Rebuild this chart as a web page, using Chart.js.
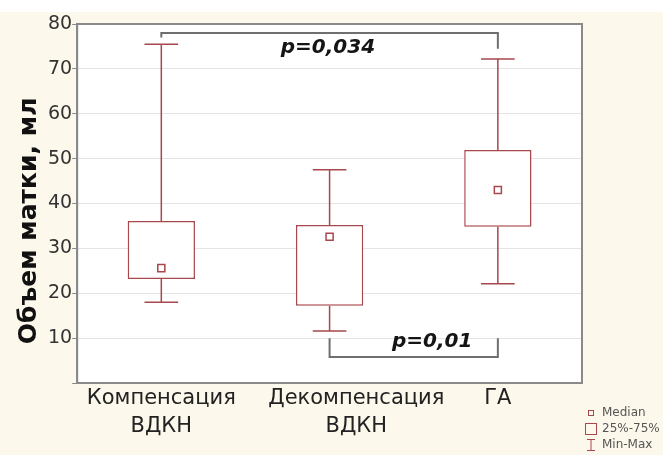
<!DOCTYPE html>
<html>
<head>
<meta charset="utf-8">
<script src="https://cdn.jsdelivr.net/npm/chart.js@4.4.0/dist/chart.umd.min.js"></script>
<style>
  body {
    margin: 0;
    background: linear-gradient(#ffffff 0 12px, #fdf8ec 12px);
  }
  #wrap { width: 663px; height: 455px; position: relative; }
</style>
</head>
<body>
<div id="wrap"><canvas id="myChart"></canvas></div>
<script>
// DATA
const NB = "\u00A0";
const categories = [
  ["Компенсация", "ВДКН"],
  [NB.repeat(8) + "Декомпенсация", NB.repeat(8) + "ВДКН"],
  "ГА",
];
const minVals = [18.0, 11.6, 22.1];
const q1Vals = [23.2, 17.2, 34.8];
const medianVals = [25.6, 32.6, 43.0];
const q3Vals = [36.1, 35.2, 51.9];
const maxVals = [75.5, 47.5, 72.2];
const yTicks = [0, 10, 20, 30, 40, 50, 60, 70, 80];

// significance brackets: from/to category, bracket level, end tick levels, label spot
const comparisons = [
  { from: 0, to: 2, level: 78, endFrom: 77, endTo: 74.5, text: "p=0,034", at: 0.99, textY: 74.6 },
  { from: 1, to: 2, level: 5.8, endFrom: 10, endTo: 10, text: "p=0,01", at: 1.61, textY: 9.1 },
];

const BOX_RED = "#a8474c";
const FRAME = "#8a8a8a";

//SMALL LEGEND ICONS
function makeIcon(w, h, draw) {
  const c = document.createElement("canvas");
  c.width = w;
  c.height = h;
  const g = c.getContext("2d");
  g.strokeStyle = BOX_RED;
  g.lineWidth = 1;
  draw(g);
  return c;
}
const iconMedian = makeIcon(8, 8, (g) => g.strokeRect(1.5, 1.5, 5, 5));
const iconBox = makeIcon(12, 12, (g) => g.strokeRect(0.5, 0.5, 11, 11));
const iconWhisker = makeIcon(10, 12, (g) => {
  g.beginPath();
  g.moveTo(1, 0.5); g.lineTo(9, 0.5);
  g.moveTo(5, 0.5); g.lineTo(5, 11.5);
  g.moveTo(1, 11.5); g.lineTo(9, 11.5);
  g.stroke();
});

//PLOT BACKGROUND + FRAME
const frame = {
  id: "frame",
  beforeDraw(chart) {
    const { ctx, chartArea: a } = chart;
    ctx.save();
    ctx.fillStyle = "#ffffff";
    ctx.fillRect(a.left, a.top, a.right - a.left, a.bottom - a.top);
    ctx.restore();
  },
  afterDraw(chart) {
    const { ctx, chartArea: a } = chart;
    ctx.save();
    ctx.strokeStyle = FRAME;
    ctx.lineWidth = 2;
    ctx.strokeRect(a.left, a.top, a.right - a.left, a.bottom - a.top);
    ctx.restore();
  },
};

//WHISKERS (min - q1, q3 - max) from the library scales
const whiskers = {
  id: "whiskers",
  beforeDatasetsDraw(chart) {
    const { ctx, scales } = chart;
    const y = scales.y;
    const bars = chart.getDatasetMeta(0).data;
    ctx.save();
    ctx.strokeStyle = BOX_RED;
    ctx.lineWidth = 1.5;
    bars.forEach((bar, i) => {
      const cx = bar.x;
      const half = bar.width * 0.25;
      const yMin = y.getPixelForValue(minVals[i]);
      const yMax = y.getPixelForValue(maxVals[i]);
      ctx.beginPath();
      ctx.moveTo(cx, yMax);
      ctx.lineTo(cx, y.getPixelForValue(q3Vals[i]));
      ctx.moveTo(cx, y.getPixelForValue(q1Vals[i]));
      ctx.lineTo(cx, yMin);
      ctx.moveTo(cx - half, yMax);
      ctx.lineTo(cx + half, yMax);
      ctx.moveTo(cx - half, yMin);
      ctx.lineTo(cx + half, yMin);
      ctx.stroke();
    });
    ctx.restore();
  },
};

//P-VALUE BRACKETS
const brackets = {
  id: "brackets",
  afterDatasetsDraw(chart) {
    const { ctx, scales } = chart;
    const x = scales.x;
    const y = scales.y;
    ctx.save();
    comparisons.forEach((c) => {
      const x1 = x.getPixelForValue(c.from);
      const x2 = x.getPixelForValue(c.to);
      const yl = y.getPixelForValue(c.level);
      ctx.strokeStyle = "#6f6f6f";
      ctx.lineWidth = 2;
      ctx.beginPath();
      ctx.moveTo(x1, y.getPixelForValue(c.endFrom));
      ctx.lineTo(x1, yl);
      ctx.lineTo(x2, yl);
      ctx.lineTo(x2, y.getPixelForValue(c.endTo));
      ctx.stroke();
      ctx.fillStyle = "#151515";
      ctx.font = "italic bold 20px 'DejaVu Sans'";
      ctx.textAlign = "center";
      ctx.textBaseline = "middle";
      ctx.fillText(c.text, x.getPixelForValue(c.at), y.getPixelForValue(c.textY));
    });
    ctx.restore();
  },
};

const data = {
  labels: categories,
  datasets: [
    {
      type: "bar",
      label: "25%-75%",
      data: q1Vals.map((q, i) => [q, q3Vals[i]]),
      backgroundColor: "#ffffff",
      borderColor: BOX_RED,
      borderWidth: 1.5,
      borderSkipped: false,
      barPercentage: 0.4,
      categoryPercentage: 1,
      order: 2,
    },
    {
      type: "line",
      label: "Median",
      data: medianVals,
      showLine: false,
      pointStyle: "rect",
      pointRadius: 5,
      pointBorderWidth: 1.5,
      pointBackgroundColor: "#ffffff",
      pointBorderColor: BOX_RED,
      order: 1,
    },
  ],
};

const config = {
  type: "bar",
  data,
  plugins: [frame, whiskers, brackets],
  options: {
    responsive: true,
    maintainAspectRatio: false,
    animation: false,
    layout: { padding: { left: 10, top: 24, right: 0, bottom: 0 } },
    plugins: {
      tooltip: { enabled: false },
      legend: {
        position: "right",
        align: "end",
        maxWidth: 81,
        onClick: null,
        labels: {
          usePointStyle: true,
          pointStyleWidth: 10,
          padding: 4,
          color: "#555555",
          font: { family: "'DejaVu Sans'", size: 12 },
          generateLabels: () => [
            { text: "Median", pointStyle: iconMedian, fontColor: "#555555", lineWidth: 0 },
            { text: "25%-75%", pointStyle: iconBox, fontColor: "#555555", lineWidth: 0 },
            { text: "Min-Max", pointStyle: iconWhisker, fontColor: "#555555", lineWidth: 0 },
          ],
        },
      },
    },
    scales: {
      x: {
        grid: { display: false, drawTicks: false },
        border: { color: FRAME, width: 2 },
        ticks: {
          color: "#222222",
          padding: 2,
          maxRotation: 0,
          autoSkip: false,
          font: { family: "'DejaVu Sans'", size: 21, lineHeight: 1.333 },
        },
        afterFit: (s) => {
          s.height += 12;
        },
      },
      y: {
        min: 0,
        max: 80,
        afterBuildTicks: (s) => {
          s.ticks = yTicks.map((v) => ({ value: v }));
        },
        grid: { color: "#e4e4e4", tickColor: FRAME, tickLength: 5 },
        border: { color: FRAME, width: 2 },
        ticks: {
          color: "#333333",
          padding: 0,
          font: { family: "'DejaVu Sans'", size: 19 },
          callback: (v) => (v === 0 ? "" : v),
        },
        title: {
          display: true,
          text: "Объем матки, мл    ",
          color: "#111111",
          padding: { top: 4, bottom: 4 },
          font: { family: "'DejaVu Sans'", size: 25, weight: "bold" },
        },
      },
    },
  },
};

// RENDER CHART
const myChart = new Chart(document.getElementById("myChart"), config);
</script>
</body>
</html>
